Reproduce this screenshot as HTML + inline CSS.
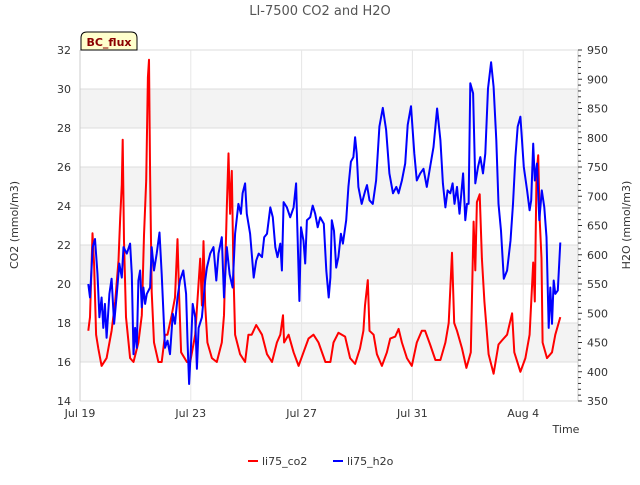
<!DOCTYPE html>
<html><head><meta charset="utf-8"><style>
body{margin:0;background:#fff;font-family:"Liberation Sans","DejaVu Sans",sans-serif;}
svg text{font-family:"DejaVu Sans","Liberation Sans",sans-serif;}
</style></head><body>
<svg id="chart" width="640" height="480" xmlns="http://www.w3.org/2000/svg">
<g id="grid"></g>
<g id="axes"></g>
<g id="series"></g>
<text x="320" y="15" text-anchor="middle" font-size="13" fill="#555">LI-7500 CO2 and H2O</text>
<text transform="translate(18,225) rotate(-90)" text-anchor="middle" font-size="11" fill="#333">CO2 (mmol/m3)</text>
<text transform="translate(630,225) rotate(-90)" text-anchor="middle" font-size="11" fill="#333">H2O (mmol/m3)</text>
<text x="566" y="433" text-anchor="middle" font-size="11" fill="#333">Time</text>
<g>
<path d="M81,50 L81,38 Q81,32 87,32 L131,32 Q137,32 137,38 L137,50 Z" fill="#ffffcc" stroke="#000" stroke-width="1"/>
<text x="109" y="46" text-anchor="middle" font-size="11" font-weight="bold" fill="#8b0000">BC_flux</text>
</g>
<g>
<g><line x1="248" y1="461" x2="258" y2="461" stroke="#f00" stroke-width="2"/><text x="262" y="465" font-size="11" fill="#333">li75_co2</text></g>
<g><line x1="333" y1="461" x2="343" y2="461" stroke="#00f" stroke-width="2"/><text x="347" y="465" font-size="11" fill="#333">li75_h2o</text></g>
</g>
</svg>
<script>
const xTickLabels=["Jul 19","Jul 23","Jul 27","Jul 31","Aug 4"];
const xTickDays=[0,4,8,12,16];
const leftTicks=[14,16,18,20,22,24,26,28,30,32];
const rightTicks=[350,400,450,500,550,600,650,700,750,800,850,900,950];
const co2Days=[0.30,0.36,0.45,0.51,0.58,0.66,0.78,0.96,1.14,1.27,1.39,1.45,1.51,1.54,1.59,1.66,1.81,1.93,2.11,2.23,2.31,2.39,2.45,2.49,2.53,2.59,2.67,2.83,2.95,3.07,3.16,3.31,3.43,3.52,3.58,3.65,3.86,3.98,4.16,4.34,4.40,4.46,4.52,4.60,4.76,4.94,5.12,5.20,5.30,5.36,5.42,5.48,5.54,5.60,5.78,5.96,6.08,6.20,6.36,6.57,6.75,6.93,7.11,7.23,7.33,7.37,7.53,7.71,7.89,8.07,8.25,8.43,8.61,8.86,9.04,
9.15,9.33,9.57,9.75,9.93,10.11,10.23,10.29,10.39,10.45,10.60,10.72,10.90,11.08,11.20,11.38,11.50,11.62,11.80,11.98,12.16,12.34,12.46,12.64,12.83,13.01,13.19,13.31,13.43,13.51,13.61,13.79,13.95,14.11,14.21,14.27,14.33,14.43,14.51,14.60,14.75,14.93,15.11,15.23,15.42,15.60,15.68,15.90,16.08,16.23,16.36,16.42,16.48,16.54,16.60,16.66,16.70,16.86,17.04,17.16,17.34];
const co2Values=[17.6,18.3,22.6,21,17.4,16.7,15.8,16.2,17.6,19.1,21.2,23.4,25.1,27.4,22.2,18.3,16.2,16,17,18.4,22.5,25.3,30.6,31.5,25.6,19.6,17,16,16,17.4,17.4,18.4,19.3,22.3,19.3,16.5,16,16,17.4,21.3,18.9,22.2,18.9,17,16.2,16,17,18.4,23.9,26.7,23.6,25.8,20.5,17.4,16.4,16,17.4,17.4,17.9,17.4,16.4,16,17,17.4,18.4,17,17.4,16.5,15.8,16.5,17.2,17.4,17,16,16,
17,17.5,17.3,16.2,15.9,16.7,17.6,18.9,20.2,17.6,17.4,16.4,15.8,16.5,17.2,17.3,17.7,17,16.2,15.8,17,17.6,17.6,16.9,16.1,16.1,17,18,21.6,18,17.6,16.7,15.7,16.5,23.2,20.7,24.2,24.6,21.3,19.1,16.4,15.4,16.9,17.1,17.4,18.5,16.5,15.5,16.2,17.4,21.1,19.1,25.6,26.6,23.2,21.3,17,16.2,16.5,17.4,18.3];
const h2oDays=[0.30,0.36,0.46,0.54,0.63,0.70,0.78,0.84,0.90,0.96,1.06,1.14,1.23,1.33,1.42,1.51,1.57,1.69,1.81,1.87,1.93,1.99,2.05,2.11,2.17,2.23,2.29,2.35,2.41,2.53,2.59,2.67,2.77,2.87,2.95,3.07,3.16,3.25,3.35,3.43,3.52,3.61,3.73,3.83,3.88,3.94,4.00,4.07,4.16,4.22,4.28,4.40,4.52,4.58,4.70,4.82,4.92,5.00,5.12,5.20,5.30,5.40,5.51,5.60,5.72,5.81,5.87,5.96,6.02,6.14,6.27,6.36,6.45,6.57,6.65,6.75,6.87,6.96,7.05,7.13,7.23,7.29,7.35,7.47,7.59,7.71,7.80,7.86,7.92,7.98,8.07,8.13,8.19,8.31,8.40,8.49,8.58,8.67,8.80,8.89,8.98,9.04,
9.09,9.17,9.25,9.33,9.42,9.49,9.61,9.69,9.78,9.87,9.93,9.99,10.05,10.17,10.30,10.36,10.45,10.57,10.69,10.81,10.93,11.05,11.17,11.30,11.42,11.50,11.62,11.74,11.83,11.95,12.07,12.16,12.28,12.40,12.52,12.64,12.76,12.89,13.01,13.10,13.19,13.27,13.37,13.45,13.52,13.61,13.70,13.83,13.91,13.97,14.03,14.09,14.19,14.27,14.37,14.45,14.55,14.63,14.73,14.84,14.93,15.03,15.11,15.20,15.30,15.42,15.54,15.63,15.72,15.80,15.90,16.02,16.14,16.23,16.29,16.36,16.42,16.50,16.58,16.67,16.76,16.84,16.92,16.98,17.04,17.10,17.16,17.25,17.34];
const h2oValues=[550,527,613,627,567,493,527,475,516,458,533,559,482,533,585,561,613,602,619,567,430,475,441,556,573,510,544,516,533,544,613,573,602,638,567,441,453,430,499,482,527,556,573,533,453,379,436,516,493,405,475,493,556,578,602,613,556,602,630,527,613,567,544,636,687,670,705,722,670,636,561,590,602,596,630,636,681,664,613,596,619,573,690,681,664,681,722,624,521,647,624,585,659,664,684,670,647,664,653,573,527,561,
659,641,578,596,636,619,659,716,759,767,801,773,716,687,710,719,693,687,727,819,851,814,739,705,716,705,727,756,822,854,773,727,739,747,716,750,784,850,796,722,681,710,705,722,687,716,670,739,659,687,687,893,876,722,750,767,739,773,884,929,887,796,687,641,559,573,624,687,767,819,836,750,710,676,693,790,727,756,659,710,681,630,475,544,482,556,533,539,621];

const NS="http://www.w3.org/2000/svg";
const L=80,R=578,T=50,B=401;
const xS=d=>L+d*27.7;
const yL=v=>B-(v-14)*(B-T)/18;
const yR=v=>B-(v-350)*(B-T)/600;
function mk(tag,attrs,parent){const e=document.createElementNS(NS,tag);for(const k in attrs)e.setAttribute(k,attrs[k]);parent.appendChild(e);return e;}
const grid=document.getElementById('grid'),axes=document.getElementById('axes'),series=document.getElementById('series');
// bands
[16,20,24,28].forEach(v=>{const r=mk('rect',{x:L,y:yL(v+2),width:R-L,height:yL(v)-yL(v+2),fill:'#f3f3f3'},grid);

});
leftTicks.forEach(v=>{const l=mk('line',{x1:L,x2:R,y1:yL(v),y2:yL(v),stroke:'#dcdcdc','stroke-width':1},grid);


const t=mk('text',{x:L-9,y:yL(v)+4,'text-anchor':'end','font-size':11,fill:'#333'},axes);t.textContent=v;

});
xTickDays.forEach((d,i)=>{const l=mk('line',{x1:xS(d),x2:xS(d),y1:T,y2:B,stroke:'#e6e6e6','stroke-width':1},grid);


const t=mk('text',{x:xS(d),y:B+16,'text-anchor':'middle','font-size':11,fill:'#333'},axes);t.textContent=xTickLabels[i];

});
const lb=mk('line',{x1:L,x2:L,y1:T,y2:B,stroke:'#ccc'},axes);


const rb=mk('line',{x1:R,x2:R,y1:T,y2:B,stroke:'#ccc'},axes);


for(let v=350;v<=950;v+=10){const maj=v%50===0;const tk=mk('line',{x1:R,x2:R+(maj?4:3),y1:yR(v),y2:yR(v),stroke:'#333','stroke-width':1},axes);

}
rightTicks.forEach(v=>{const t=mk('text',{x:R+9,y:yR(v)+4,'font-size':11,fill:'#333'},axes);t.textContent=v;

});
function line(days,vals,ys,color,name){const n=Math.min(days.length,vals.length);let d='';for(let i=0;i<n;i++)d+=(i?'L':'M')+xS(days[i]).toFixed(1)+','+ys(vals[i]).toFixed(1);
const p=mk('path',{d:d,fill:'none',stroke:color,'stroke-width':2,'stroke-linejoin':'round'},series);

}
line(co2Days,co2Values,yL,'#ff0000','co2-line');
line(h2oDays,h2oValues,yR,'#0000ff','h2o-line');
</script>
</body></html>
